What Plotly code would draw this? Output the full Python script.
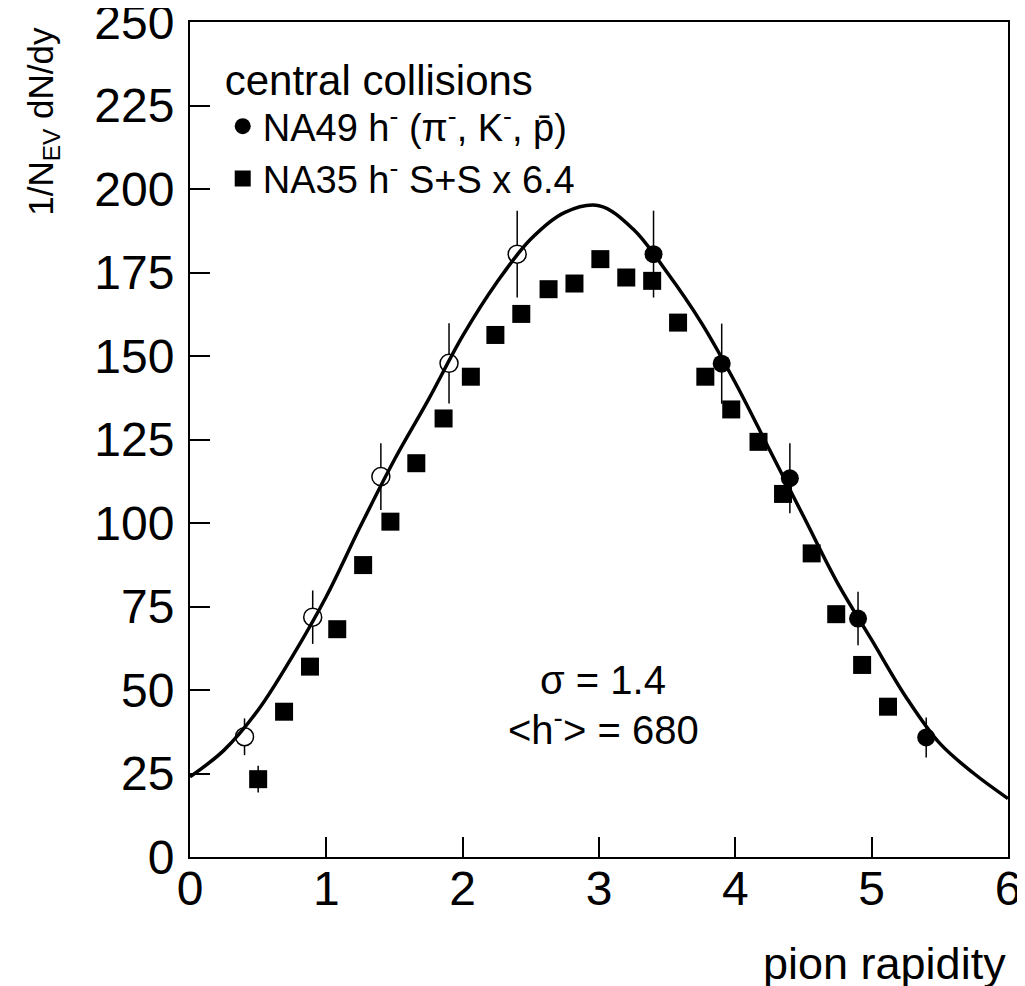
import plotly.graph_objects as go

# NA49 h- measured (filled circles)
na49_x = [3.4, 3.9, 4.4, 4.9, 5.4]
na49_y = [180.5, 147.7, 113.4, 71.4, 35.8]
na49_err = [13, 12, 10.5, 8, 6]

# NA49 reflected points (open circles)
refl_x = [0.4, 0.9, 1.4, 1.9, 2.4]
refl_y = [36.0, 71.8, 113.9, 147.8, 180.5]
refl_err = [5.5, 8, 10, 12, 13]

# NA35 h- S+S x 6.4 (filled squares)
na35_x = [0.50, 0.69, 0.88, 1.08, 1.27, 1.47, 1.66, 1.86, 2.06, 2.24, 2.43, 2.63, 2.82,
          3.01, 3.20, 3.39, 3.58, 3.78, 3.97, 4.17, 4.35, 4.56, 4.74, 4.93, 5.12]
na35_y = [23.3, 43.5, 57.0, 68.2, 87.4, 100.4, 117.9, 131.3, 143.8, 156.3, 162.6, 170.0, 171.7,
          179.0, 173.5, 172.5, 160.0, 143.8, 134.0, 124.3, 108.7, 90.9, 72.7, 57.5, 45.0]
na35_err = [4, 0, 0, 0, 0, 0, 0, 0, 0, 0, 0, 0, 0,
            0, 0, 0, 0, 0, 0, 0, 0, 0, 0, 0, 0]

# Fit curve
fit_x = [0, 0.25, 0.5, 0.75, 1.0, 1.25, 1.5, 1.75, 2.0, 2.25, 2.5, 2.75, 3.0,
         3.25, 3.5, 3.75, 4.0, 4.25, 4.5, 4.75, 5.0, 5.25, 5.5, 5.75, 6.0]
fit_y = [24, 32, 44, 60, 78, 99, 119, 137, 156, 172, 185, 193, 195,
         188, 175, 160, 142, 122, 102, 82, 65, 48, 34, 25, 17.5]

x_ticks = [0, 1, 2, 3, 4, 5, 6]
y_ticks = [0, 25, 50, 75, 100, 125, 150, 175, 200, 225, 250]

FONT = "Liberation Sans, Arial, sans-serif"

fig = go.Figure()

fig.add_trace(go.Scatter(
    x=na35_x, y=na35_y, mode="markers", name="NA35 h<sup>-</sup> S+S x 6.4",
    marker=dict(symbol="square", size=18, color="black"),
    error_y=dict(type="data", array=na35_err, color="black", thickness=1.5, width=0),
))
fig.add_trace(go.Scatter(
    x=refl_x, y=refl_y, mode="markers", showlegend=False,
    marker=dict(symbol="circle", size=18, color="white", line=dict(color="black", width=1.5)),
    error_y=dict(type="data", array=refl_err, color="black", thickness=1.5, width=0),
))
fig.add_trace(go.Scatter(
    x=na49_x, y=na49_y, mode="markers", name="NA49 h<sup>-</sup> (π<sup>-</sup>, K<sup>-</sup>, p̄)",
    marker=dict(symbol="circle", size=18, color="black"),
    error_y=dict(type="data", array=na49_err, color="black", thickness=1.5, width=0),
))
fig.add_trace(go.Scatter(
    x=fit_x, y=fit_y, mode="lines", showlegend=False, line=dict(color="black", width=3.5, shape="spline"),
))

fig.update_layout(
    width=1017, height=978,
    margin=dict(l=182, r=17, t=14, b=129, autoexpand=False),
    plot_bgcolor="white", paper_bgcolor="white",
    legend=dict(
        x=0.04, y=0.978, xanchor="left", yanchor="top",
        traceorder="reversed",
        font=dict(family=FONT, size=38, color="black"),
        title=dict(text="central collisions", font=dict(family=FONT, size=42, color="black")),
        bgcolor="rgba(0,0,0,0)",
        itemwidth=30,
        tracegroupgap=0,
    ),
    xaxis=dict(
        range=[0, 6], tickvals=x_ticks, ticktext=[str(v) for v in x_ticks],
        ticks="inside", ticklen=20, tickwidth=1.5, tickcolor="black",
        showline=True, linecolor="black", linewidth=2, mirror=True,
        showgrid=False, zeroline=False, automargin=False,
        tickfont=dict(family=FONT, size=48, color="black"),
        ticklabelstandoff=-12, ticklabeloverflow="allow",
    ),
    yaxis=dict(
        range=[0, 250], tickvals=y_ticks, ticktext=[str(v) for v in y_ticks],
        ticks="inside", ticklen=20, tickwidth=1.5, tickcolor="black",
        showline=True, linecolor="black", linewidth=2, mirror=True,
        showgrid=False, zeroline=False, automargin=False,
        tickfont=dict(family=FONT, size=48, color="black"),
        ticklabelstandoff=4, ticklabeloverflow="allow",
    ),
    annotations=[
        dict(text="1/N<sub>EV</sub> dN/dy", xref="paper", yref="paper", x=-0.18, y=0.997,
             xanchor="center", yanchor="top", textangle=-90, showarrow=False,
             font=dict(family=FONT, size=35, color="black")),
        dict(text="pion rapidity", xref="paper", yref="paper", x=1.0, y=-0.128,
             xanchor="right", yanchor="middle", showarrow=False,
             font=dict(family=FONT, size=45, color="black")),
        dict(text="σ = 1.4", xref="paper", yref="paper", x=0.505, y=0.212,
             xanchor="center", yanchor="middle", showarrow=False,
             font=dict(family=FONT, size=40, color="black")),
        dict(text="<h<sup>-</sup>> = 680", xref="paper", yref="paper", x=0.505, y=0.156,
             xanchor="center", yanchor="middle", showarrow=False,
             font=dict(family=FONT, size=40, color="black")),
    ],
)

fig.write_html("out.html")
